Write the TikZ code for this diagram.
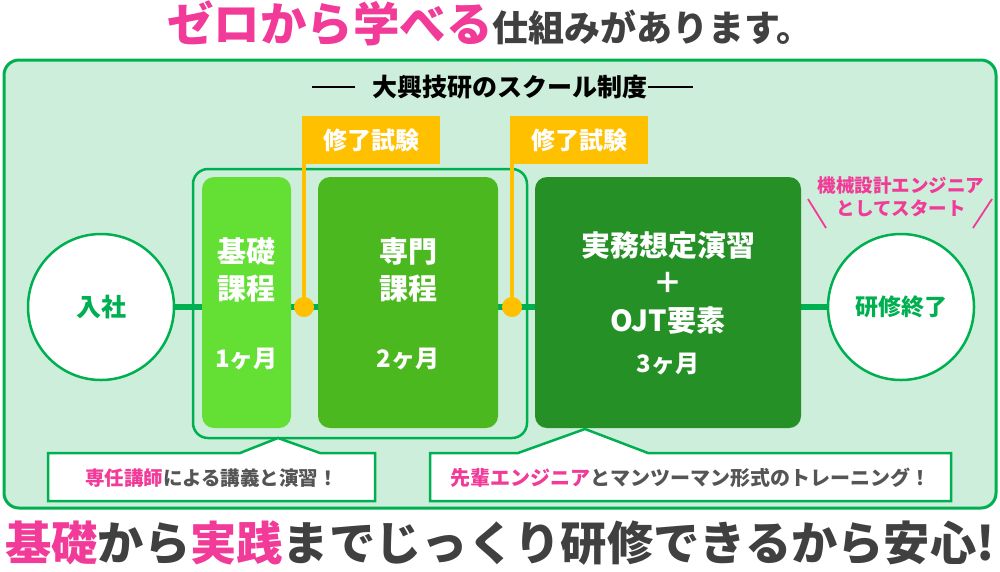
\documentclass[tikz,border=0pt]{standalone}
\usepackage{fontspec}
\setmainfont{Noto Sans CJK JP}
\definecolor{pinkc}{HTML}{F23A98}
\definecolor{bgc}{HTML}{CCEEDA}
\definecolor{grn}{HTML}{00B050}
\definecolor{boxa}{HTML}{63E033}
\definecolor{boxb}{HTML}{4CB81F}
\definecolor{boxc}{HTML}{249025}
\definecolor{orc}{HTML}{FFC000}
\definecolor{dgray}{HTML}{404040}
\definecolor{mgray}{HTML}{555555}
\newcommand\myfs[2]{\fontsize{#1}{#2}\selectfont}
\tikzset{
  course/.style={rounded corners=12, minimum width=#1, minimum height=251, inner sep=0},
  ctext/.style={text=white, align=center, font=\bfseries\myfs{29}{37}},
  mtext/.style={text=white, font=\bfseries\myfs{24}{28}},
  circ/.style={circle, draw=grn, line width=2.5, fill=white, minimum size=146, inner sep=0, text=grn},
  conn/.style={draw=grn, line width=6},
  olab/.style={fill=orc, minimum width=138, minimum height=48, inner sep=0, text=white, font=\bfseries\myfs{24}{28}},
  oline/.style={draw=orc, line width=4},
  callout/.style={fill=white, draw=grn, line width=2.5, line join=miter},
  ctxt/.style={text=mgray, font=\bfseries\myfs{19.5}{24}},
}
\begin{document}
\begin{tikzpicture}[x=1pt,y=-1pt]
\useasboundingbox (0,0) rectangle (1000,571);
% frame
\draw[rounded corners=15, fill=bgc, draw=grn, line width=3] (4,60) rectangle (996,508);
% title
\node[anchor=base, inner sep=0] (title) at (490,41) {\bfseries\textcolor{pinkc}{\myfs{46.5}{50}ゼロから学べる}\textcolor{dgray}{\myfs{36}{40}仕組みがあります。}};
% header
\node[inner sep=0, font=\bfseries\myfs{25}{28}] (hdr) at (510,87) {大興技研のスクール制度};
\draw[line width=1.5] ([xshift=-17]hdr.west) -- ++(-43,0);
\draw[line width=1.5] (hdr.east) -- ++(45,0);
% group outline
\node[draw=grn, line width=2.5, rounded corners=15, minimum width=334, minimum height=269, inner sep=0] (grp) at (360,303.5) {};
% circles
\node[circ, font=\bfseries\myfs{25}{28}] (start) at (101,307) {入社};
\node[circ, font=\bfseries\myfs{23}{26}] (goal) at (901,307) {研修終了};
% connector
\draw[conn] (start) -- (goal);
% course boxes
\node[course=89, fill=boxa] (b1) at (246.5,302.5) {};
\node[course=180, fill=boxb] (b2) at (408,302.5) {};
\node[course=266, fill=boxc] (b3) at (668,302.5) {};
\node[ctext] (b1t) at (246.5,269.5) {基礎\\課程};
\node[mtext] (b1m) at (246.5,359) {1ヶ月};
\node[ctext] (b2t) at (408,269.5) {専門\\課程};
\node[mtext] (b2m) at (408,359) {2ヶ月};
\node[ctext, font=\bfseries\myfs{29}{37.5}] (b3t) at (668,283) {実務想定演習\\＋\\OJT要素};
\node[mtext] (b3m) at (668,364) {3ヶ月};
% exam labels
\coordinate (d1) at (304,307);
\coordinate (d2) at (512,307);
\node[olab] (t1) at (371,140) {修了試験};
\node[olab] (t2) at (579,140) {修了試験};
\draw[oline] (d1 |- t1.south) -- (d1);
\draw[oline] (d2 |- t2.south) -- (d2);
\fill[orc] (d1) circle (10);
\fill[orc] (d2) circle (10);
% callouts
\coordinate (p1) at (278,438);
\coordinate (p2) at (585,429);
\draw[callout] (48,453) -- (240,453) -- (p1) -- (320,453) -- (375,453) -- (375,501) -- (48,501) -- cycle;
\draw[callout] (430,453) -- (518,453) -- (p2) -- (648,453) -- (951,453) -- (951,501) -- (430,501) -- cycle;
\node[ctxt] (c1) at (211.5,478) {\textcolor{pinkc}{専任講師}による講義と演習！};
\node[ctxt, font=\bfseries\myfs{20}{24}] (c2) at (690,478) {\textcolor{pinkc}{先輩エンジニア}とマンツーマン形式のトレーニング！};
% right label
\node[text=pinkc, align=center, font=\bfseries\myfs{18.5}{23}] (lab) at (901,196.5) {機械設計エンジニア\\としてスタート};
\draw[pinkc, line width=1.8] (808,199) -- (826,228);
\draw[pinkc, line width=1.8] (992,199) -- (973,228);
% bottom text
\node[anchor=base, inner sep=0, text=dgray, font=\bfseries\myfs{46.3}{50}] (bottom) at (500,560) {\textcolor{pinkc}{基礎}から\textcolor{pinkc}{実践}までじっくり研修できるから安心!};
\end{tikzpicture}
\end{document}
